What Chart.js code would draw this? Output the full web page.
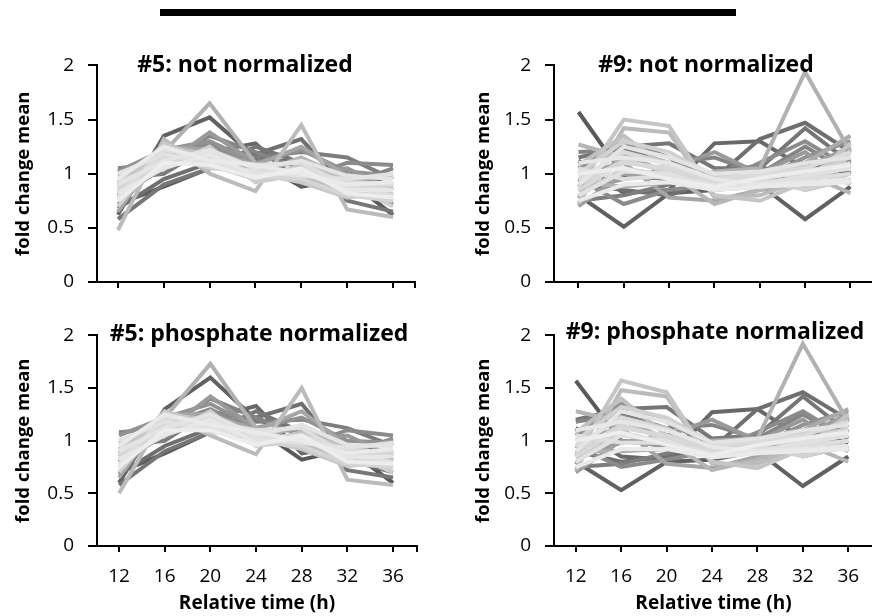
<!DOCTYPE html>
<html><head><meta charset="utf-8">
<script src="https://cdn.jsdelivr.net/npm/chart.js@4"></script>
<style>
html,body{margin:0;padding:0;background:#fff;overflow:hidden;width:872px;height:616px;position:relative}
canvas{position:absolute}
.ttl{position:absolute;font-family:'Open Sans';font-weight:bold;font-size:23px;line-height:23px;white-space:nowrap;transform:translateX(-50%);color:#000;z-index:2}
#bar{position:absolute;left:160px;top:9px;width:576px;height:7px;background:#000}
</style></head><body>
<div id="bar"></div>
<canvas id="c1" width="436" height="270" style="left:0;top:40px"></canvas>
<canvas id="c2" width="450" height="270" style="left:436px;top:40px"></canvas>
<canvas id="c3" width="436" height="306" style="left:0;top:310px"></canvas>
<canvas id="c4" width="450" height="306" style="left:436px;top:310px"></canvas>
<div class="ttl" id="t1" style="left:245px;top:52px"></div>
<div class="ttl" id="t2" style="left:706px;top:52px"></div>
<div class="ttl" id="t3" style="left:259px;top:321px"></div>
<div class="ttl" id="t4" style="left:715px;top:319px"></div>
<script>
// ---------- data ----------
const hours = [12, 16, 20, 24, 28, 32, 36];
const yTickValues = [0, 0.5, 1, 1.5, 2];
const panelTitles = ['#5: not normalized', '#9: not normalized', '#5: phosphate normalized', '#9: phosphate normalized'];
const yAxisTitle = 'fold change mean';
const xAxisTitle = 'Relative time (h)';

// #5 not normalized (one row per trace, values at hours 12..36)
const s5NotNorm = [
  [0.72, 0.88, 1.05, 1.12, 0.88, 0.95, 0.62],
  [0.62, 1.35, 1.52, 1.15, 1.10, 0.95, 0.85],
  [0.80, 1.05, 1.20, 1.28, 0.90, 0.98, 0.90],
  [0.68, 0.95, 1.10, 1.18, 1.32, 0.85, 0.72],
  [0.58, 0.90, 1.05, 1.25, 1.10, 0.75, 0.65],
  [0.95, 1.00, 1.25, 1.15, 1.20, 1.15, 0.95],
  [1.05, 1.10, 1.35, 1.20, 1.05, 0.90, 1.05],
  [0.85, 1.15, 1.28, 1.05, 0.95, 1.10, 1.08],
  [1.02, 1.22, 1.30, 1.10, 1.22, 1.02, 0.98],
  [0.75, 1.08, 1.38, 1.10, 1.00, 1.05, 0.85],
  [0.92, 1.18, 1.15, 1.02, 1.12, 0.92, 1.00],
  [0.65, 1.25, 1.22, 1.08, 1.25, 0.98, 0.80],
  [0.98, 1.10, 1.20, 0.98, 1.05, 0.88, 0.92],
  [0.88, 1.20, 1.65, 1.10, 0.95, 0.85, 0.75],
  [0.78, 1.15, 1.10, 1.00, 1.15, 0.95, 0.88],
  [0.48, 1.32, 1.00, 0.84, 1.45, 0.67, 0.60],
  [0.90, 1.25, 1.18, 1.05, 0.98, 0.82, 0.78],
  [1.00, 1.12, 1.08, 0.95, 1.08, 0.95, 0.98],
  [0.82, 1.28, 1.12, 1.00, 0.92, 0.78, 0.82],
  [0.95, 1.05, 1.25, 0.92, 1.00, 0.90, 0.70],
  [0.70, 1.20, 1.05, 1.02, 1.02, 0.85, 0.90],
  [0.88, 1.10, 1.15, 0.98, 0.95, 0.80, 0.75],
  [0.85, 1.15, 1.20, 1.05, 1.00, 0.90, 0.85],
  [0.92, 1.08, 1.12, 1.00, 1.05, 0.92, 0.90],
  [0.78, 1.22, 1.15, 1.08, 1.10, 0.88, 0.80],
  [1.00, 1.18, 1.10, 1.02, 0.98, 0.95, 1.00],
  [0.90, 1.12, 1.22, 1.05, 1.12, 0.98, 0.95],
  [0.82, 1.05, 1.18, 0.98, 1.02, 0.85, 0.85],
  [0.95, 1.25, 1.12, 1.08, 1.00, 0.90, 0.92],
  [0.75, 1.10, 1.08, 0.96, 1.05, 0.82, 0.78]
];

// #9 not normalized
const s9NotNorm = [
  [1.57, 0.98, 0.95, 0.90, 1.00, 1.10, 1.00],
  [0.80, 0.51, 0.82, 0.85, 0.90, 0.58, 0.88],
  [1.12, 0.82, 0.85, 1.28, 1.30, 1.05, 1.15],
  [0.90, 0.85, 0.80, 0.95, 1.32, 1.47, 1.20],
  [1.15, 1.25, 1.28, 1.05, 1.05, 1.42, 1.10],
  [0.75, 0.80, 0.90, 1.00, 1.08, 0.85, 0.95],
  [1.20, 1.22, 1.10, 1.15, 1.00, 1.25, 1.00],
  [0.95, 0.72, 0.85, 0.90, 1.10, 1.30, 1.05],
  [1.05, 1.30, 1.15, 0.95, 0.95, 1.15, 1.30],
  [0.85, 0.95, 1.05, 1.20, 1.00, 1.20, 0.90],
  [0.70, 1.00, 0.95, 0.88, 0.92, 1.05, 1.25],
  [1.00, 1.10, 0.78, 0.75, 0.85, 0.90, 1.10],
  [0.78, 1.18, 1.00, 0.90, 1.02, 1.10, 1.35],
  [0.92, 0.88, 0.92, 1.02, 1.05, 1.94, 1.20],
  [1.27, 1.15, 1.00, 0.72, 0.85, 1.00, 0.82],
  [0.72, 1.42, 1.38, 0.78, 0.80, 0.95, 1.20],
  [1.08, 1.35, 1.05, 0.95, 0.92, 0.88, 1.00],
  [0.88, 1.50, 1.44, 0.80, 0.75, 0.92, 1.28],
  [0.95, 1.20, 1.10, 0.92, 0.98, 1.08, 0.90],
  [0.80, 1.05, 0.98, 0.85, 0.88, 1.00, 1.15],
  [1.00, 1.30, 1.20, 0.98, 0.95, 0.85, 0.95],
  [0.90, 1.12, 1.02, 0.88, 1.00, 0.98, 1.05],
  [0.85, 1.10, 1.05, 0.92, 0.95, 1.02, 1.10],
  [0.95, 1.20, 1.08, 0.95, 1.00, 1.05, 1.20],
  [1.05, 0.95, 0.98, 0.90, 0.92, 0.95, 1.00],
  [0.80, 1.02, 1.00, 0.86, 0.90, 0.98, 1.05],
  [0.90, 1.25, 1.15, 1.00, 1.02, 1.10, 1.15],
  [1.10, 1.15, 1.10, 0.95, 0.90, 0.92, 0.95],
  [0.75, 0.90, 0.92, 0.85, 0.88, 0.90, 0.92],
  [1.00, 1.05, 0.95, 0.88, 0.96, 1.02, 1.08]
];

// #5 phosphate normalized
const s5PhosNorm = [
  [0.70, 0.88, 1.08, 1.12, 0.82, 0.92, 0.60],
  [0.60, 1.30, 1.60, 1.20, 1.08, 0.92, 0.82],
  [0.80, 1.05, 1.22, 1.33, 0.88, 0.95, 0.88],
  [0.68, 0.95, 1.12, 1.22, 1.35, 0.82, 0.70],
  [0.58, 0.90, 1.08, 1.28, 1.08, 0.72, 0.65],
  [0.95, 1.00, 1.28, 1.18, 1.20, 1.12, 0.95],
  [1.08, 1.12, 1.40, 1.22, 1.05, 0.88, 1.02],
  [0.85, 1.15, 1.30, 1.08, 0.95, 1.10, 1.05],
  [1.05, 1.22, 1.35, 1.12, 1.22, 1.00, 0.98],
  [0.75, 1.08, 1.42, 1.12, 1.00, 1.05, 0.85],
  [0.92, 1.20, 1.18, 1.05, 1.12, 0.90, 1.00],
  [0.65, 1.25, 1.25, 1.10, 1.28, 0.95, 0.80],
  [0.98, 1.10, 1.22, 1.00, 1.05, 0.86, 0.92],
  [0.88, 1.22, 1.73, 1.12, 0.95, 0.85, 0.75],
  [0.78, 1.15, 1.12, 1.02, 1.15, 0.92, 0.88],
  [0.50, 1.25, 1.05, 0.87, 1.50, 0.63, 0.58],
  [0.90, 1.25, 1.20, 1.05, 0.98, 0.80, 0.78],
  [1.00, 1.12, 1.10, 0.98, 1.08, 0.92, 0.98],
  [0.82, 1.28, 1.15, 1.02, 0.92, 0.76, 0.80],
  [0.95, 1.05, 1.28, 0.95, 1.00, 0.88, 0.70],
  [0.70, 1.20, 1.08, 1.05, 1.02, 0.83, 0.90],
  [0.88, 1.10, 1.18, 1.00, 0.95, 0.78, 0.75],
  [0.85, 1.15, 1.22, 1.05, 1.00, 0.88, 0.85],
  [0.92, 1.08, 1.15, 1.02, 1.05, 0.90, 0.90],
  [0.78, 1.22, 1.18, 1.10, 1.12, 0.86, 0.80],
  [1.00, 1.18, 1.12, 1.02, 0.98, 0.93, 0.98],
  [0.90, 1.12, 1.25, 1.05, 1.15, 0.96, 0.95],
  [0.82, 1.05, 1.20, 0.98, 1.02, 0.84, 0.85],
  [0.95, 1.25, 1.15, 1.08, 1.00, 0.88, 0.92],
  [0.75, 1.10, 1.10, 0.96, 1.05, 0.80, 0.78]
];

// #9 phosphate normalized
const s9PhosNorm = [
  [1.57, 1.00, 0.95, 0.85, 1.00, 1.10, 0.98],
  [0.80, 0.53, 0.80, 0.82, 0.90, 0.57, 0.85],
  [1.12, 0.85, 0.82, 1.27, 1.30, 1.02, 1.15],
  [0.90, 0.80, 0.85, 0.92, 1.30, 1.46, 1.20],
  [1.20, 1.30, 1.32, 1.02, 1.05, 1.42, 1.08],
  [0.75, 0.78, 0.88, 1.00, 1.05, 0.85, 0.95],
  [1.18, 1.25, 1.12, 1.15, 1.02, 1.25, 1.02],
  [0.95, 0.75, 0.82, 0.90, 1.08, 1.28, 1.02],
  [1.05, 1.35, 1.18, 0.95, 0.95, 1.15, 1.28],
  [0.85, 0.98, 1.05, 1.20, 1.00, 1.20, 0.90],
  [0.70, 1.00, 0.95, 0.85, 0.90, 1.05, 1.25],
  [1.00, 1.12, 0.78, 0.74, 0.85, 0.90, 1.10],
  [0.78, 1.20, 1.02, 0.88, 1.00, 1.10, 1.30],
  [0.90, 0.90, 0.92, 1.00, 1.02, 1.92, 1.18],
  [1.28, 1.18, 1.00, 0.72, 0.82, 0.98, 0.80],
  [0.72, 1.48, 1.42, 0.78, 0.78, 0.95, 1.20],
  [1.08, 1.40, 1.05, 0.95, 0.90, 0.88, 1.00],
  [0.85, 1.57, 1.46, 0.80, 0.74, 0.92, 1.25],
  [0.95, 1.22, 1.12, 0.90, 0.96, 1.08, 0.90],
  [0.80, 1.08, 0.98, 0.85, 0.88, 1.00, 1.12],
  [1.00, 1.32, 1.22, 0.98, 0.95, 0.85, 0.95],
  [0.90, 1.15, 1.02, 0.88, 0.98, 0.98, 1.05],
  [0.85, 1.12, 1.05, 0.90, 0.95, 1.02, 1.10],
  [0.95, 1.22, 1.10, 0.94, 1.00, 1.05, 1.18],
  [1.05, 0.98, 0.98, 0.88, 0.92, 0.95, 1.00],
  [0.80, 1.05, 1.00, 0.85, 0.90, 0.98, 1.05],
  [0.90, 1.28, 1.18, 0.98, 1.02, 1.10, 1.15],
  [1.10, 1.18, 1.10, 0.94, 0.90, 0.92, 0.95],
  [0.75, 0.92, 0.92, 0.84, 0.88, 0.90, 0.92],
  [1.00, 1.08, 0.96, 0.86, 0.96, 1.02, 1.08]
];

// ---------- styling ----------
const grays = ['#5a5a5a','#616161','#686868','#6f6f6f','#767676','#7d7d7d','#848484','#8b8b8b','#929292','#999999','#9f9f9f','#a5a5a5','#ababab','#b1b1b1','#b6b6b6','#bbbbbb','#c0c0c0','#c5c5c5','#c9c9c9','#cdcdcd','#d1d1d1','#d5d5d5','#d8d8d8','#dbdbdb','#dedede','#e1e1e1','#e4e4e4','#e7e7e7','#eaeaea','#ededed'];
const FONT = 'Open Sans';

function makePanel(id, series, g) {
  const ctx = document.getElementById(id).getContext('2d');
  const n = series.length;
  return new Chart(ctx, {
    type: 'line',
    data: {
      labels: hours,
      datasets: series.map((vals, i) => ({
        data: vals,
        borderColor: grays[i % grays.length],
        borderWidth: 4,
        pointRadius: 0,
        tension: 0,
        fill: false,
        order: n - i
      }))
    },
    options: {
      responsive: false,
      animation: false,
      events: [],
      layout: { padding: { top: g.T - g.cy, right: g.cx + g.cw - g.R, left: 0, bottom: 0 } },
      plugins: { legend: { display: false }, tooltip: { enabled: false }, title: { display: false } },
      scales: {
        x: {
          type: 'linear', min: g.xmin, max: g.xmax,
          afterBuildTicks: s => { s.ticks = hours.map(v => ({ value: v })).concat([{ value: g.xmax }]); },
          afterFit: s => { s.height = g.cy + g.ch - g.B; },
          grid: { drawOnChartArea: false, drawTicks: true, tickLength: 6, tickWidth: 2, tickColor: '#000', color: '#000', lineWidth: 2 },
          border: { display: true, color: '#000', width: 2 },
          ticks: {
            autoSkip: false, maxRotation: 0, minRotation: 0, padding: 13, color: '#000',
            font: { family: FONT, size: 19 },
            callback: v => (g.showX && hours.includes(v)) ? String(v) : ''
          },
          title: { display: g.showX, text: xAxisTitle, color: '#000',
            font: { family: FONT, size: 19, weight: 'bold' }, padding: { top: 0, bottom: 1 } }
        },
        y: {
          min: 0, max: 2,
          afterBuildTicks: s => { s.ticks = yTickValues.map(v => ({ value: v })); },
          afterFit: s => { s.width = g.L - g.cx; },
          grid: { drawOnChartArea: false, drawTicks: true, tickLength: 9, tickWidth: 2, tickColor: '#000', color: '#000', lineWidth: 2 },
          border: { display: true, color: '#000', width: 2 },
          ticks: { padding: 14, color: '#000', font: { family: FONT, size: 19 }, callback: v => String(v) },
          title: { display: true, text: yAxisTitle, color: '#000',
            font: { family: FONT, size: 18.5, weight: 'bold' }, padding: { top: g.ytPad, bottom: 0 } }
        }
      }
    }
  });
}

const panels = [
  { id: 'c1', data: s5NotNorm,  cx: 0,   cy: 40,  cw: 436, ch: 270, L: 97,  T: 63,  R: 415, B: 282, xmin: 10.17, xmax: 37.92, showX: false, ytPad: 13 },
  { id: 'c2', data: s9NotNorm,  cx: 436, cy: 40,  cw: 450, ch: 270, L: 554, T: 63,  R: 880, B: 282, xmin: 9.84,  xmax: 37.99, showX: false, ytPad: 37 },
  { id: 'c3', data: s5PhosNorm, cx: 0,   cy: 310, cw: 436, ch: 306, L: 97,  T: 333, R: 417, B: 546, xmin: 10.07, xmax: 38.10, showX: true,  ytPad: 13 },
  { id: 'c4', data: s9PhosNorm, cx: 436, cy: 310, cw: 450, ch: 306, L: 554, T: 333, R: 876, B: 546, xmin: 10.08, xmax: 38.18, showX: true,  ytPad: 37 }
];

document.fonts.load('19px "Open Sans"').then(() => document.fonts.load('bold 19px "Open Sans"')).finally(() => {
  panels.forEach((p, i) => {
    makePanel(p.id, p.data, p);
    document.getElementById('t' + (i + 1)).textContent = panelTitles[i];
  });
});
</script>
</body></html>
